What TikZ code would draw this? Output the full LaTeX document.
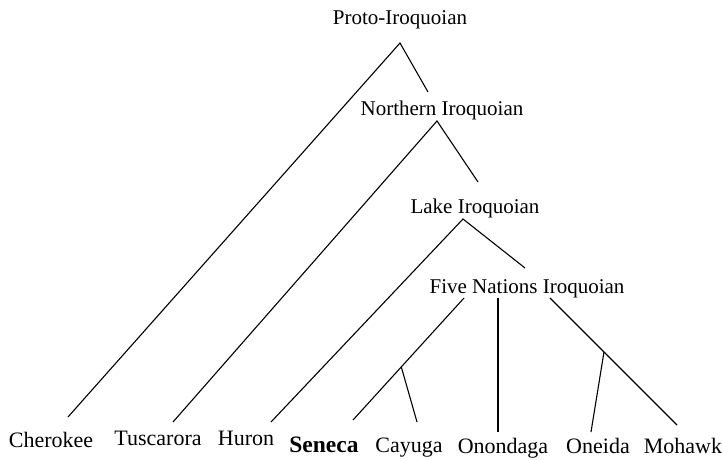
\documentclass[tikz,border=0pt]{standalone}
\usepackage{fontspec}
\setmainfont{Liberation Serif}
\begin{document}
\begin{tikzpicture}[x=1pt,y=-1pt,
  lang/.style={inner sep=0pt,anchor=base,font=\fontsize{21}{25}\selectfont},
  leaf/.style={lang,font=\fontsize{22}{26}\selectfont},
  branch/.style={line width=1.1pt}]
\useasboundingbox (0,0) rectangle (723,460);
% inner nodes of the tree
\node[lang] (proto) at (400,25) {Proto-Iroquoian};
\node[lang] (northern) at (442,115) {Northern Iroquoian};
\node[lang] (lake) at (475,213) {Lake Iroquoian};
\node[lang] (five) at (527,293) {Five Nations Iroquoian};
% leaves
\node[leaf] (cherokee) at (51,447) {Cherokee};
\node[leaf] (tuscarora) at (158,445) {Tuscarora};
\node[leaf] (huron) at (246,445) {Huron};
\node[leaf,font=\fontsize{23.5}{28}\selectfont\bfseries] (seneca) at (324,452) {Seneca};
\node[leaf] (cayuga) at (409,452) {Cayuga};
\node[leaf] (onondaga) at (503,453) {Onondaga};
\node[leaf] (oneida) at (598,453) {Oneida};
\node[leaf] (mohawk) at (683,453) {Mohawk};
% branch ends
\coordinate (protoFoot) at (400,43);
\coordinate (northernHead) at (428,92);
\coordinate (northernFoot) at (437,121);
\coordinate (lakeHead) at (478,182);
\coordinate (lakeFoot) at (463,219);
\coordinate (fiveHead) at (525,268);
\coordinate (fiveL) at (464,298);
\coordinate (fiveM) at (498,298);
\coordinate (fiveR) at (550,298);
\coordinate (cherokeeTop) at (68,417);
\coordinate (tuscaroraTop) at (173,422);
\coordinate (huronTop) at (271,422);
\coordinate (senecaTop) at (353,420);
\coordinate (cayugaTop) at (417,422);
\coordinate (onondagaTop) at (498,432);
\coordinate (oneidaTop) at (591,432);
\coordinate (mohawkTop) at (677,425);
% branches
\draw[branch] (cherokeeTop) -- (protoFoot) -- (northernHead);
\draw[branch] (tuscaroraTop) -- (northernFoot) -- (lakeHead);
\draw[branch] (huronTop) -- (lakeFoot) -- (fiveHead);
\draw[branch] (fiveL) -- coordinate[pos=0.565] (cayugaJoin) (senecaTop);
\draw[branch] (cayugaJoin) -- (cayugaTop);
\draw[branch,line width=1.6pt] (fiveM) -- (onondagaTop);
\draw[branch] (fiveR) -- coordinate[pos=0.425] (oneidaJoin) (mohawkTop);
\draw[branch] (oneidaJoin) -- (oneidaTop);
\end{tikzpicture}
\end{document}
